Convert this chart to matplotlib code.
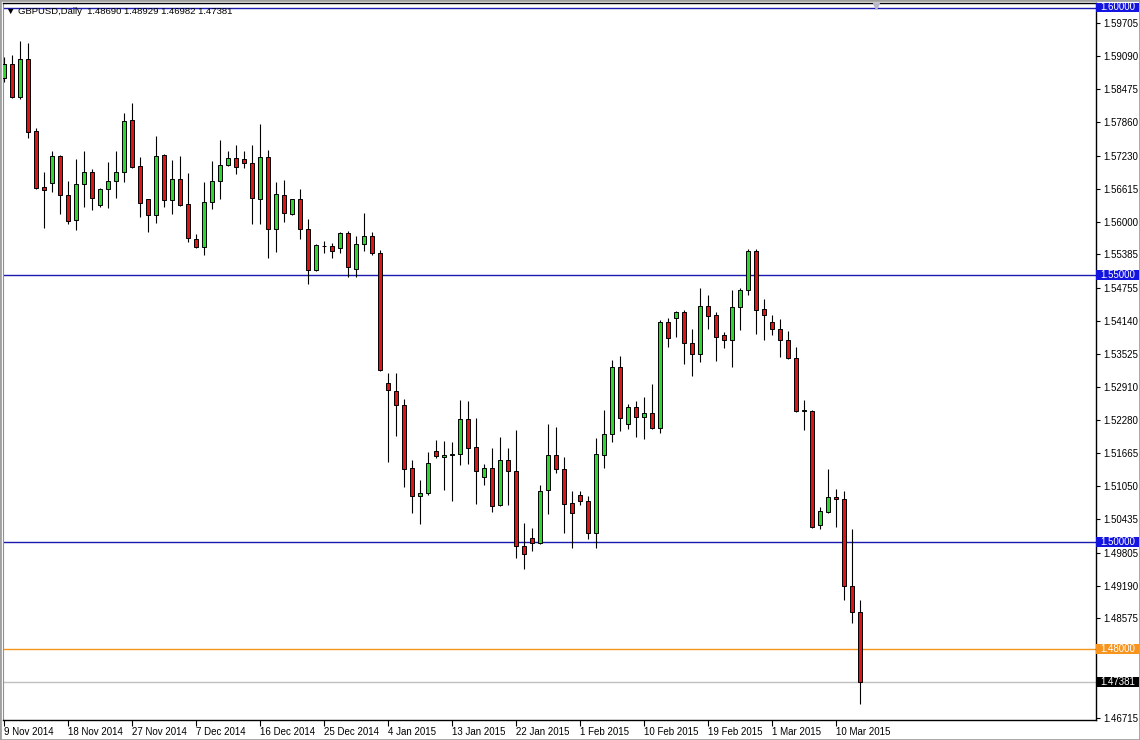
import matplotlib
matplotlib.use('Agg')
import matplotlib.pyplot as plt
from matplotlib.patches import Rectangle
import matplotlib.transforms as mtransforms
import numpy as np

# GBPUSD daily bars, 9 Nov 2014 - 13 Mar 2015
symbol = 'GBPUSD,Daily'
date_labels = ['9 Nov 2014', '18 Nov 2014', '27 Nov 2014', '7 Dec 2014', '16 Dec 2014',
               '25 Dec 2014', '4 Jan 2015', '13 Jan 2015', '22 Jan 2015', '1 Feb 2015',
               '10 Feb 2015', '19 Feb 2015', '1 Mar 2015', '10 Mar 2015']

opens = [
    1.58694, 1.58955, 1.58321, 1.59049, 1.57687, 1.56642, 1.56716, 1.57220, 1.56493, 1.56026,
    1.56698, 1.56922, 1.56306, 1.56605, 1.56754, 1.56922, 1.57892, 1.57034, 1.56418, 1.56119,
    1.57239, 1.56399, 1.56791, 1.56325, 1.55672, 1.55522, 1.56362, 1.56754, 1.57052, 1.57183,
    1.57164, 1.57090, 1.56418, 1.57202, 1.55858, 1.56493, 1.56138, 1.56418, 1.55858, 1.55093,
    1.55541, 1.55541, 1.55504, 1.55784, 1.55112, 1.55578, 1.55728, 1.55410, 1.52985, 1.52836,
    1.52575, 1.51381, 1.50858, 1.50914, 1.51716, 1.51604, 1.51642, 1.51660, 1.52313, 1.51791,
    1.51213, 1.51381, 1.50690, 1.51548, 1.51325, 1.49925, 1.50075, 1.49981, 1.50970, 1.51642,
    1.51362, 1.50728, 1.50877, 1.50765, 1.50168, 1.51642, 1.52034, 1.53284, 1.52220, 1.52537,
    1.52351, 1.52425, 1.52145, 1.54123, 1.54198, 1.54310, 1.53731, 1.53526, 1.54422, 1.54254,
    1.53881, 1.53787, 1.54403, 1.54720, 1.55448, 1.54366, 1.54123, 1.53993, 1.53787, 1.53451,
    1.52463, 1.52463, 1.50317, 1.50560, 1.50840, 1.50802, 1.49179, 1.48690]
highs = [
    1.59086, 1.59123, 1.59384, 1.59347, 1.57743, 1.56922, 1.57313, 1.57239, 1.56754, 1.57164,
    1.57313, 1.56978, 1.56623, 1.57108, 1.57313, 1.58022, 1.58209, 1.57202, 1.56418, 1.57593,
    1.57257, 1.57146, 1.57220, 1.56903, 1.55765, 1.56735, 1.57127, 1.57519, 1.57313, 1.57425,
    1.57313, 1.57425, 1.57817, 1.57332, 1.56735, 1.56772, 1.56418, 1.56605, 1.56045, 1.55578,
    1.55634, 1.55597, 1.55802, 1.55821, 1.55728, 1.56157, 1.55802, 1.55466, 1.53172, 1.53172,
    1.52687, 1.51548, 1.51157, 1.51698, 1.51922, 1.51903, 1.51884, 1.52668, 1.52649, 1.52332,
    1.51474, 1.51772, 1.51978, 1.51772, 1.52108, 1.50354, 1.50261, 1.51063, 1.52220, 1.52164,
    1.51604, 1.50951, 1.50951, 1.50858, 1.51959, 1.52481, 1.53414, 1.53489, 1.52593, 1.52649,
    1.52724, 1.52966, 1.54160, 1.54198, 1.54328, 1.54347, 1.53993, 1.54757, 1.54627, 1.54310,
    1.53937, 1.54720, 1.54757, 1.55485, 1.55485, 1.54552, 1.54254, 1.54179, 1.53955, 1.53657,
    1.52668, 1.52481, 1.50653, 1.51362, 1.50989, 1.50951, 1.50243, 1.48929]
lows = [
    1.58619, 1.58302, 1.58284, 1.57556, 1.56605, 1.55877, 1.56549, 1.56138, 1.55952, 1.55840,
    1.56269, 1.56213, 1.56269, 1.56250, 1.56437, 1.56735, 1.56996, 1.56082, 1.55802, 1.55970,
    1.56269, 1.56138, 1.56287, 1.55616, 1.55504, 1.55373, 1.56231, 1.56418, 1.57034, 1.56884,
    1.56996, 1.55952, 1.55952, 1.55317, 1.55429, 1.55989, 1.56119, 1.55672, 1.54832, 1.55075,
    1.55410, 1.55317, 1.55410, 1.54963, 1.54963, 1.55448, 1.55373, 1.53210, 1.51511, 1.51996,
    1.51026, 1.50541, 1.50336, 1.50877, 1.51586, 1.50970, 1.50765, 1.51455, 1.51474, 1.50709,
    1.51063, 1.50560, 1.50672, 1.50690, 1.49701, 1.49496, 1.49832, 1.49963, 1.50522, 1.51287,
    1.50168, 1.49888, 1.50690, 1.50056, 1.49888, 1.51381, 1.51884, 1.52090, 1.52127, 1.51978,
    1.51940, 1.52127, 1.52052, 1.53657, 1.53843, 1.53340, 1.53116, 1.53377, 1.53993, 1.53396,
    1.53638, 1.53284, 1.53974, 1.54627, 1.53899, 1.53787, 1.53881, 1.53470, 1.53433, 1.52444,
    1.52108, 1.50261, 1.50243, 1.50541, 1.50280, 1.48918, 1.48489, 1.46982]
closes = [
    1.58955, 1.58321, 1.59049, 1.57668, 1.56623, 1.56586, 1.57220, 1.56493, 1.56007, 1.56698,
    1.56922, 1.56437, 1.56605, 1.56754, 1.56922, 1.57873, 1.57015, 1.56343, 1.56119, 1.57220,
    1.56399, 1.56791, 1.56306, 1.55690, 1.55522, 1.56362, 1.56754, 1.57052, 1.57183, 1.57015,
    1.57090, 1.56437, 1.57202, 1.55858, 1.56511, 1.56157, 1.56418, 1.55858, 1.55093, 1.55560,
    1.55545, 1.55448, 1.55784, 1.55149, 1.55578, 1.55728, 1.55410, 1.53228, 1.52854, 1.52575,
    1.51362, 1.50858, 1.50914, 1.51492, 1.51623, 1.51642, 1.51660, 1.52313, 1.51772, 1.51343,
    1.51381, 1.50672, 1.51548, 1.51325, 1.49925, 1.49776, 1.49981, 1.50951, 1.51642, 1.51362,
    1.50709, 1.50541, 1.50765, 1.50168, 1.51660, 1.52034, 1.53284, 1.52332, 1.52537, 1.52351,
    1.52425, 1.52145, 1.54123, 1.53825, 1.54310, 1.53731, 1.53526, 1.54422, 1.54235, 1.53843,
    1.53787, 1.54403, 1.54720, 1.55448, 1.54347, 1.54254, 1.53993, 1.53787, 1.53451, 1.52463,
    1.52470, 1.50280, 1.50578, 1.50840, 1.50802, 1.49179, 1.48694, 1.47381]

# horizontal levels drawn on the chart
blue_levels = [1.60000, 1.55000, 1.50000]
orange_level = 1.48000
bid_price = closes[-1]

# price scale labels on the right
price_ticks = [1.59705, 1.59090, 1.58475, 1.57860, 1.57230, 1.56615, 1.56000, 1.55385,
               1.54755, 1.54140, 1.53525, 1.52910, 1.52280, 1.51665, 1.51050, 1.50435,
               1.49805, 1.49190, 1.48575, 1.46715]

plt.rcParams['font.family'] = ['Liberation Sans', 'DejaVu Sans']
FS = 7

W, H = 1140, 740
fig = plt.figure(figsize=(W / 100, H / 100), dpi=100)
fig.patch.set_facecolor('white')
fig.patches.append(Rectangle((0, 0), 1, 1, transform=fig.transFigure, fill=False,
                             edgecolor='#a0a0a0', lw=2))

# plot frame: x 3..1096, y 3..720 (pixels from top)
ax = fig.add_axes([3 / W, 20 / H, 1093 / W, 717 / H])

x = np.arange(len(opens))
o = np.array(opens)
c = np.array(closes)
up = c >= o
colors = np.where(up, '#2fd62f', '#dc1616')

# levels
for lvl in blue_levels:
    ax.axhline(lvl, color='#1a1ab0', lw=1, zorder=1)
ax.axhline(orange_level, color='#f7941d', lw=1, zorder=1)
ax.axhline(bid_price, color='#c0c0c0', lw=1, zorder=1)

# candles
ax.vlines(x, lows, highs, color='black', lw=0.8, zorder=2)
ax.bar(x, np.maximum(np.abs(c - o), 0.00001), bottom=np.minimum(o, c), width=0.62,
       color=colors, edgecolor='black', linewidth=0.7, zorder=3)

ax.set_xlim(-0.125, 136.5)
ax.set_ylim(1.46676, 1.60088)

# x axis: date labels every 8 bars
ax.set_xticks(np.arange(0, len(date_labels) * 8, 8))
ax.set_xticklabels(date_labels, ha='left')
ax.tick_params(axis='x', length=4, width=0.8, pad=1, labelsize=FS, direction='out')

# y axis on the right
ax.yaxis.tick_right()
ax.set_yticks(price_ticks)
ax.set_yticklabels([f'{v:.5f}' for v in price_ticks])
ax.tick_params(axis='y', length=3, width=0.8, pad=2, labelsize=FS, direction='out')

ax.spines['top'].set_linewidth(1)
ax.spines['left'].set_color('#909090')
ax.spines['right'].set_linewidth(1)
ax.spines['bottom'].set_linewidth(1)

# highlighted price labels (filled boxes on the price scale)
tags = [(lvl, '#1414e0', 'white') for lvl in blue_levels]
tags += [(orange_level, '#f7941d', 'white'), (bid_price, 'black', 'white')]
trans = mtransforms.blended_transform_factory(ax.transAxes, ax.transData)
px = 1.0 / 1093
py = (1.60088 - 1.46676) / 717
for val, bg, fg in tags:
    ax.add_patch(Rectangle((1.0, val - 4.5 * py), 43 * px, 9.5 * py, transform=trans,
                           facecolor=bg, edgecolor='none', clip_on=False, zorder=5))
    ax.text(1.0 + 4 * px, val + 0.5 * py, f'{val:.5f}', transform=trans, ha='left',
            va='center', fontsize=FS, color=fg, clip_on=False, zorder=6)

# chart shift marker at the top
ax.plot([0.7987], [0.996], transform=ax.transAxes, marker='v', ms=5, color='#b8b8c8',
        clip_on=False, zorder=6)

# header line
header = f'\u25bc {symbol}  {opens[-1]:.5f} {highs[-1]:.5f} {lows[-1]:.5f} {closes[-1]:.5f}'
fig.text(6 / W, 1 - 12 / H, header, fontsize=6.8, va='center', ha='left')

fig.savefig('out.png', dpi=100)
plt.close(fig)
